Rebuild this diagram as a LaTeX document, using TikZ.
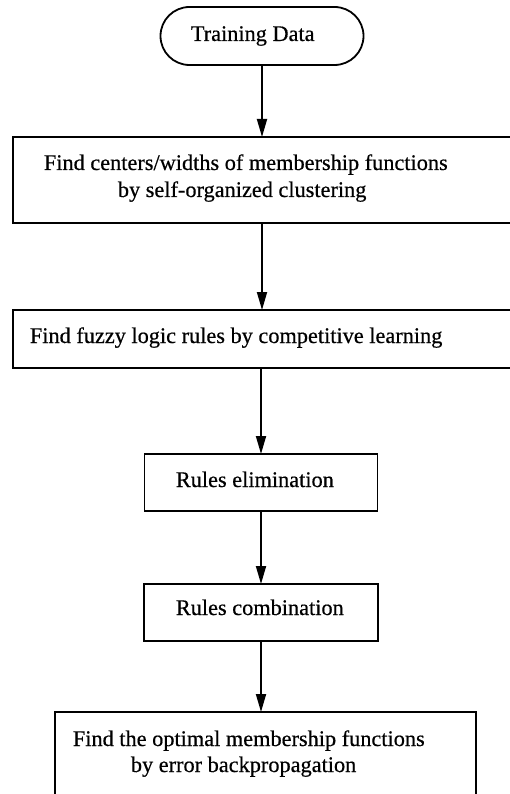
\documentclass[tikz,border=0pt]{standalone}
\usepackage{fontspec}
\setmainfont{Liberation Serif}[UprightFeatures={FakeBold=0.5}]
\usetikzlibrary{arrows.meta}
\begin{document}
\begin{tikzpicture}[x=1pt,y=-1pt,
  line width=1.8pt,
  frame/.style={draw, inner sep=0pt, outer sep=0pt},
  terminal/.style={frame, rounded corners=29pt},
  label/.style={anchor=base west, inner sep=0pt, font=\fontsize{22.3}{26}\selectfont},
  arr/.style={-{Triangle[length=18pt,width=10pt]}}]
\useasboundingbox (0,0) rectangle (510,794);

% start terminal
\node[terminal, minimum width=203pt, minimum height=58pt] (t) at (262,36) {};
\node[label] (tl) at (190,41) {Training Data};

% clustering step (right side runs past the edge)
\node[frame, minimum width=500pt, minimum height=86pt] (b2) at (263,180) {};
\node[label] (b2a) at (43,170) {Find centers/widths of membership functions};
\node[label] (b2b) at (117,197) {by self-organized clustering};

% rule extraction step
\node[frame, minimum width=500pt, minimum height=58pt] (b3) at (263,339) {};
\node[label] (b3a) at (29,343) {Find fuzzy logic rules by competitive learning};

% elimination
\node[frame, minimum width=233pt, minimum height=57pt] (b4) at (261,482.5) {};
\node[label] (b4a) at (175,487) {Rules elimination};

% combination
\node[frame, minimum width=234pt, minimum height=57pt] (b5) at (261,612.5) {};
\node[label] (b5a) at (175,615) {Rules combination};

% tuning step (bottom runs past the edge)
\node[frame, minimum width=421pt, minimum height=90pt] (b6) at (265.5,757) {};
\node[label] (b6a) at (72,746) {Find the optimal membership functions};
\node[label] (b6b) at (130,772) {by error backpropagation};

% connectors
\draw[arr] (t.south) -- (t.south |- b2.north);
\draw[arr] (t.south |- b2.south) -- (t.south |- b3.north);
\draw[arr] (b3.south -| b4.north) -- (b4.north);
\draw[arr] (b4.south) -- (b5.north);
\draw[arr] (b5.south) -- (b5.south |- b6.north);
\end{tikzpicture}
\end{document}
